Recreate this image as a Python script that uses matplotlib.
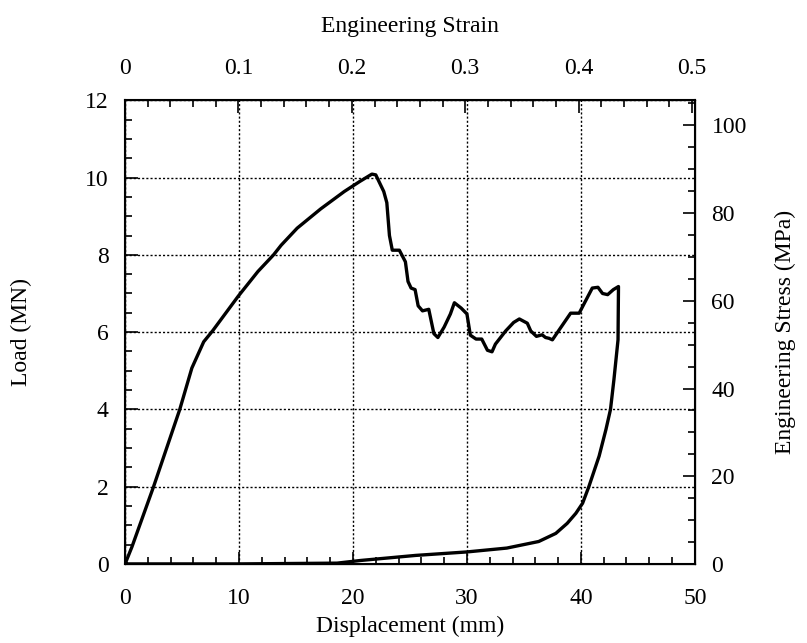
import numpy as np
import matplotlib
matplotlib.use("Agg")
from matplotlib import pyplot as plt
from matplotlib.ticker import MultipleLocator

plt.rcParams["font.family"] = ["Liberation Serif", "DejaVu Serif"]
plt.rcParams["font.size"] = 17

# Load-displacement trace (loading, softening, unloading)
disp = [0.0, 0.6, 2.5, 4.8, 5.86, 6.9, 7.7, 9.93, 11.66, 13.03, 13.7, 15.1,
        17.17, 19.24, 20.6, 21.66, 22.0, 22.7, 22.97, 23.2, 23.45, 24.07,
        24.6, 24.83, 25.1, 25.45, 25.72, 26.1, 26.65, 27.1, 27.45, 28.0,
        28.55, 28.9, 29.5, 30.0, 30.3, 30.8, 31.3, 31.8, 32.2, 32.5, 33.4,
        34.1, 34.6, 35.3, 35.6, 36.1, 36.6, 36.9, 37.2, 37.5, 38.1, 39.1,
        39.85, 40.15, 41.0, 41.5, 41.9, 42.35, 42.85, 43.3,
        43.26, 42.9, 42.6, 42.2, 41.6, 40.7, 40.15, 39.56, 38.8, 37.8, 36.3,
        33.5, 30.0, 25.5, 20.7, 18.6, 10.0, 0.0]
load = [0.0, 0.44, 2.0, 4.0, 5.07, 5.75, 6.04, 6.93, 7.57, 8.0, 8.25, 8.69,
        9.19, 9.64, 9.9, 10.09, 10.07, 9.64, 9.35, 8.5, 8.12, 8.12,
        7.82, 7.31, 7.14, 7.1, 6.68, 6.55, 6.59, 5.96, 5.86, 6.13,
        6.47, 6.76, 6.62, 6.47, 5.92, 5.82, 5.82, 5.53, 5.49, 5.69, 6.03,
        6.25, 6.34, 6.23, 6.03, 5.89, 5.93, 5.86, 5.84, 5.8, 6.06, 6.49,
        6.49, 6.66, 7.14, 7.16, 7.0, 6.97, 7.1, 7.18,
        5.8, 4.77, 4.0, 3.48, 2.79, 2.0, 1.57, 1.31, 1.05, 0.79, 0.58,
        0.41, 0.31, 0.22, 0.09, 0.02, 0.0, 0.0]

gauge_length = 99.5   # mm, displacement -> strain
area = 0.1135         # m^2, MN -> MPa

fig = plt.figure(figsize=(8.07, 6.43), dpi=100)
ax = fig.add_axes([0.155, 0.123, 0.706, 0.721])

ax.plot(disp, load, color="black", lw=2.4, solid_joinstyle="round")

ax.set_xlim(0, 50)
ax.set_ylim(0, 12)
ax.xaxis.set_major_locator(MultipleLocator(10))
ax.xaxis.set_minor_locator(MultipleLocator(2))
ax.yaxis.set_major_locator(MultipleLocator(2))
ax.yaxis.set_minor_locator(MultipleLocator(0.5))
ax.grid(True, which="major", color="black", ls=(0, (1.5, 1.5)), lw=1.0)
ax.tick_params(which="both", direction="in", width=1.2)
ax.tick_params(which="major", length=9)
ax.tick_params(which="minor", length=5)
ax.tick_params(axis="x", pad=17)
ax.tick_params(axis="y", pad=12)
for s in ax.spines.values():
    s.set_linewidth(1.5)
ax.set_xlabel("Displacement (mm)", labelpad=5)
ax.set_ylabel("Load (MN)", labelpad=38)

top = ax.twiny()
top.set_xlim(0, 50 / gauge_length)
top.xaxis.set_major_locator(MultipleLocator(0.1))
top.xaxis.set_minor_locator(MultipleLocator(0.02))
top.xaxis.set_major_formatter(lambda v, p: "0" if v == 0 else f"{v:g}")
top.tick_params(which="both", direction="in", width=1.2, pad=15)
top.tick_params(which="major", length=9)
top.tick_params(which="minor", length=5)
top.set_xlabel("Engineering Strain", labelpad=19)

right = ax.twinx()
right.set_ylim(0, 12 / area)
right.yaxis.set_major_locator(MultipleLocator(20))
right.yaxis.set_minor_locator(MultipleLocator(5))
right.tick_params(which="both", direction="in", width=1.2, pad=12)
right.tick_params(which="major", length=9)
right.tick_params(which="minor", length=5)
right.set_ylabel("Engineering Stress (MPa)", labelpad=20)

fig.savefig("out.png", dpi=100)
